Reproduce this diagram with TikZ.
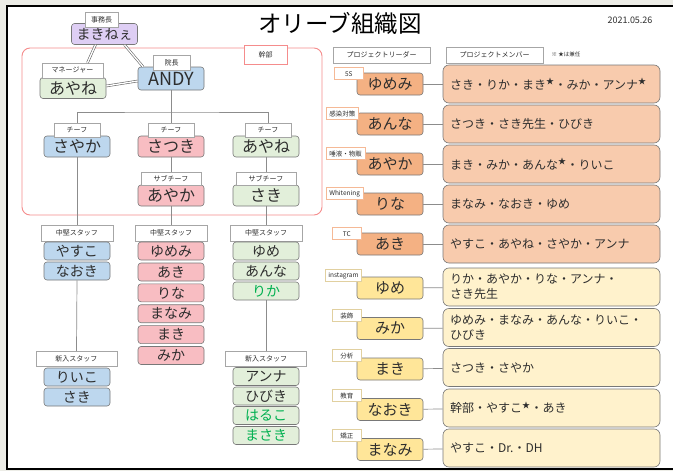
\documentclass[tikz,border=0pt]{standalone}
\usepackage{fontspec}
\setmainfont{Noto Sans CJK JP}
\usetikzlibrary{positioning}
\definecolor{OlBack}{RGB}{236,236,230}
\definecolor{OlInk}{RGB}{45,45,45}
\definecolor{OlEdge}{RGB}{120,120,120}
\definecolor{OlLine}{RGB}{140,140,140}
\definecolor{OlBlue}{RGB}{189,215,238}
\definecolor{OlPink}{RGB}{248,189,194}
\definecolor{OlGreen}{RGB}{226,239,218}
\definecolor{OlPurple}{RGB}{222,206,244}
\definecolor{OlRed}{RGB}{245,140,140}
\definecolor{OlOrange}{RGB}{244,177,131}
\definecolor{OlPeach}{RGB}{248,203,173}
\definecolor{OlYellow}{RGB}{255,230,153}
\definecolor{OlCream}{RGB}{255,242,204}
\definecolor{OlOrangeLine}{RGB}{245,185,150}
\definecolor{OlYellowLine}{RGB}{225,208,160}
\definecolor{OlGreenText}{RGB}{0,176,80}
\newcommand{\kenstar}{\textsuperscript{★}}
\tikzset{
  ol/box/.style={
    draw=OlEdge,
    line width=0.6pt,
    rounded corners=3pt,
    align=center,
    text=OlInk,
    inner sep=0pt,
    minimum width=66pt,
    minimum height=21pt,
    font=\fontsize{16}{18}\selectfont
  },
  ol/staff/.style={
    ol/box,
    minimum height=18pt,
    font=\fontsize{14}{16}\selectfont
  },
  ol/label/.style={
    draw=black!35,
    line width=0.5pt,
    fill=white,
    align=center,
    text=OlInk,
    inner sep=0pt,
    minimum height=14pt,
    font=\fontsize{7}{8}\selectfont
  },
  ol/group/.style={draw=OlRed, line width=0.9pt, rounded corners=8pt},
  ol/grouplabel/.style={ol/label, draw=OlRed, minimum width=43pt, minimum height=19pt},
  ol/leader/.style={
    ol/box,
    minimum height=22pt,
    font=\fontsize{15}{17}\selectfont
  },
  ol/member/.style={
    draw=OlEdge,
    line width=0.6pt,
    rounded corners=6pt,
    align=left,
    text=OlInk,
    inner xsep=7pt,
    inner ysep=0pt,
    text width=203pt,
    minimum height=38pt,
    font=\fontsize{12}{15}\selectfont
  },
  ol/tag/.style={
    fill=white,
    line width=0.6pt,
    anchor=south west,
    text=OlInk,
    inner xsep=3pt,
    inner ysep=0pt,
    minimum width=29pt,
    minimum height=12pt,
    font=\fontsize{6.5}{7}\selectfont
  },
  ol/line/.style={draw=OlLine, line width=0.7pt},
  ol/dline/.style={draw=black!60, line width=0.6pt, double=white, double distance=1.3pt},
  ol/frame/.style={draw=black, line width=2pt}
}
\begin{document}
\begin{tikzpicture}[x=1pt,y=-1pt]
  \useasboundingbox (0,0) rectangle (673,471);
  \fill[OlBack] (0,0) rectangle (673,471);
  \fill[white] (7,6) rectangle (673,469);
  \draw[ol/frame] (673,6) -- (7,6) -- (7,469) -- (673,469);
  \node[font=\fontsize{23.5}{26}\selectfont, text=black] (title) at (340,23) {オリーブ組織図};
  \node[font=\fontsize{9}{10}\selectfont, text=OlInk] (date) at (630,20) {2021.05.26};

  % 幹部
  \node[ol/group, minimum width=300pt, minimum height=167pt] (kanbu) at (172,131.5) {};
  \node[ol/grouplabel] (kanbulabel) at (265.5,54.5) {幹部};

  \node[ol/box, fill=OlPurple, font=\fontsize{14}{16}\selectfont] (makinee) at (104.5,34) {まきねぇ};
  \node[ol/label, minimum width=33pt, minimum height=15pt] (jimucho) at (101.5,19.5) {事務長};
  \node[ol/box, fill=OlGreen] (ayane1) at (73,88) {あやね};
  \node[ol/label, minimum width=61pt, minimum height=15pt] (manager) at (72.5,70.5) {マネージャー};
  \node[ol/box, fill=OlBlue, minimum height=23pt, font=\fontsize{18}{20}\selectfont] (andy) at (171,78.5) {ANDY};
  \node[ol/label, minimum width=37pt, minimum height=15pt] (incho) at (171.5,62.5) {院長};
  \draw[ol/dline] ([xshift=-9pt]makinee.south) -- ([xshift=15pt]manager.north);
  \draw[ol/dline] ([xshift=20pt]makinee.south) -- ([xshift=-28pt]andy.north);
  \draw[ol/dline] ([yshift=2pt]ayane1.east) -- ([yshift=-2.5pt]andy.west);

  \node[ol/box, fill=OlBlue] (sayaka) at (77,146.5) {さやか};
  \node[ol/box, fill=OlPink] (satsuki) at (171,146.5) {さつき};
  \node[ol/box, fill=OlGreen] (ayane2) at (266,146.5) {あやね};
  \node[ol/label, minimum width=46pt] (chiefL) at (77,130) {チーフ};
  \node[ol/label, minimum width=46pt] (chiefM) at (171,130) {チーフ};
  \node[ol/label, minimum width=46pt] (chiefR) at (268,130) {チーフ};
  \node[ol/box, fill=OlPink] (ayaka1) at (171,195.5) {あやか};
  \node[ol/box, fill=OlGreen] (saki1) at (266,195.5) {さき};
  \node[ol/label, minimum width=60pt, minimum height=13pt] (subM) at (171,178.5) {サブチーフ};
  \node[ol/label, minimum width=60pt, minimum height=13pt] (subR) at (266,178.5) {サブチーフ};
  \coordinate (bar) at (171,112);
  \draw[ol/line] (andy.south) -- (chiefM.north);
  \draw[ol/line] (chiefL.north) |- (bar) -| (chiefR.north);
  \draw[ol/line] (satsuki.south) -- (subM.north);
  \draw[ol/line] (ayane2.south) -- (subR.north);

  % 中堅スタッフ
  \node[ol/label, minimum width=72pt, minimum height=16pt] (midL) at (77,233) {中堅スタッフ};
  \node[ol/label, minimum width=72pt, minimum height=16pt] (midM) at (171,233) {中堅スタッフ};
  \node[ol/label, minimum width=72pt, minimum height=16pt] (midR) at (266,233) {中堅スタッフ};
  \draw[ol/line] (sayaka.south) -- (midL.north);
  \draw[ol/line] (ayaka1.south) -- (midM.north);
  \draw[ol/line] (saki1.south) -- (midR.north);
  \node[ol/staff, fill=OlBlue] (yasuko) at (77,251) {やすこ};
  \node[ol/staff, fill=OlBlue] (naoki) at (77,271) {なおき};
  \node[ol/staff, fill=OlPink] (yumemi) at (171,251) {ゆめみ};
  \node[ol/staff, fill=OlPink] (aki) at (171,272) {あき};
  \node[ol/staff, fill=OlPink] (rina) at (171,292.8) {りな};
  \node[ol/staff, fill=OlPink] (manami) at (171,313.7) {まなみ};
  \node[ol/staff, fill=OlPink] (maki) at (171,334.6) {まき};
  \node[ol/staff, fill=OlPink] (mika) at (171,355.5) {みか};
  \node[ol/staff, fill=OlGreen] (yume) at (266,251) {ゆめ};
  \node[ol/staff, fill=OlGreen] (anna) at (266,271) {あんな};
  \node[ol/staff, fill=OlGreen, text=OlGreenText] (rika) at (266,291) {りか};

  % 新入スタッフ
  \node[ol/label, minimum width=81pt, minimum height=15pt] (newL) at (76.5,358.5) {新入スタッフ};
  \node[ol/label, minimum width=81pt, minimum height=15pt] (newR) at (266,358.5) {新入スタッフ};
  \draw[ol/line] (naoki.south) -- (newL.north);
  \draw[ol/line] (rika.south) -- (newR.north);
  \node[ol/staff, fill=OlBlue] (riiko) at (77,377) {りいこ};
  \node[ol/staff, fill=OlBlue] (saki2) at (77,397) {さき};
  \node[ol/staff, fill=OlGreen] (annaK) at (266,376.5) {アンナ};
  \node[ol/staff, fill=OlGreen] (hibiki) at (266,396) {ひびき};
  \node[ol/staff, fill=OlGreen, text=OlGreenText] (haruko) at (266,415.5) {はるこ};
  \node[ol/staff, fill=OlGreen, text=OlGreenText] (masaki) at (266,435.5) {まさき};

  % プロジェクト
  \node[ol/label, minimum width=97pt, minimum height=16pt] (leadhead) at (381.5,55) {プロジェクトリーダー};
  \node[ol/label, minimum width=97pt, minimum height=16pt] (memhead) at (494.5,55) {プロジェクトメンバー};
  \node[font=\fontsize{5.5}{6}\selectfont, text=OlInk, anchor=west] (note) at (548,54) {※ ★は兼任};

  \node[ol/member, fill=OlPeach] (mem1) at (551.5,84) {さき・りか・まき\kenstar・みか・アンナ\kenstar};
  \node[ol/leader, fill=OlOrange] (lead1) at (390,84) {ゆめみ};
  \node[ol/tag, draw=OlOrangeLine] (tag1) at (334,80) {5S};
  \draw[ol/line] (lead1) -- (mem1);

  \node[ol/member, fill=OlPeach] (mem2) at (551.5,124) {さつき・さき先生・ひびき};
  \node[ol/leader, fill=OlOrange] (lead2) at (390,124) {あんな};
  \node[ol/tag, draw=OlOrangeLine] (tag2) at (326,120) {感染対策};
  \draw[ol/line] (lead2) -- (mem2);

  \node[ol/member, fill=OlPeach] (mem3) at (551.5,164) {まき・みか・あんな\kenstar・りいこ};
  \node[ol/leader, fill=OlOrange] (lead3) at (390,164) {あやか};
  \node[ol/tag, draw=OlOrangeLine] (tag3) at (326,160) {唾液・物販};
  \draw[ol/line] (lead3) -- (mem3);

  \node[ol/member, fill=OlPeach] (mem4) at (551.5,204) {まなみ・なおき・ゆめ};
  \node[ol/leader, fill=OlOrange] (lead4) at (390,204) {りな};
  \node[ol/tag, draw=OlOrangeLine] (tag4) at (326,200) {Whitening};
  \draw[ol/line] (lead4) -- (mem4);

  \node[ol/member, fill=OlPeach] (mem5) at (551.5,244) {やすこ・あやね・さやか・アンナ};
  \node[ol/leader, fill=OlOrange] (lead5) at (390,244) {あき};
  \node[ol/tag, draw=OlOrangeLine] (tag5) at (332,240) {TC};
  \draw[ol/line] (lead5) -- (mem5);

  \node[ol/member, fill=OlCream] (mem6) at (551.5,287) {りか・あやか・りな・アンナ・\\さき先生};
  \node[ol/leader, fill=OlYellow] (lead6) at (390,288) {ゆめ};
  \node[ol/tag, draw=OlYellowLine] (tag6) at (325,282) {instagram};
  \draw[ol/line] (lead6) -- (mem6);

  \node[ol/member, fill=OlCream] (mem7) at (551.5,327.5) {ゆめみ・まなみ・あんな・りいこ・\\ひびき};
  \node[ol/leader, fill=OlYellow] (lead7) at (390,328.5) {みか};
  \node[ol/tag, draw=OlYellowLine] (tag7) at (332,322) {装飾};
  \draw[ol/line] (lead7) -- (mem7);

  \node[ol/member, fill=OlCream] (mem8) at (551.5,367.5) {さつき・さやか};
  \node[ol/leader, fill=OlYellow] (lead8) at (390,369) {まき};
  \node[ol/tag, draw=OlYellowLine] (tag8) at (332,362) {分析};
  \draw[ol/line] (lead8) -- (mem8);

  \node[ol/member, fill=OlCream] (mem9) at (551.5,408) {幹部・やすこ\kenstar・あき};
  \node[ol/leader, fill=OlYellow] (lead9) at (390,409.5) {なおき};
  \node[ol/tag, draw=OlYellowLine] (tag9) at (332,402) {教育};
  \draw[ol/line] (lead9) -- (mem9);

  \node[ol/member, fill=OlCream] (mem10) at (551.5,448) {やすこ・Dr.・DH};
  \node[ol/leader, fill=OlYellow] (lead10) at (390,449.5) {まなみ};
  \node[ol/tag, draw=OlYellowLine] (tag10) at (332,442) {矯正};
  \draw[ol/line] (lead10) -- (mem10);
\end{tikzpicture}
\end{document}
